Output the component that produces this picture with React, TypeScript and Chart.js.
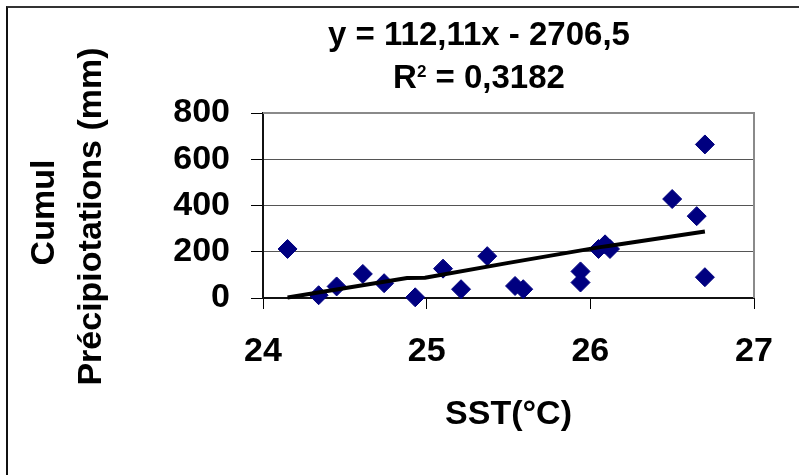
import { useEffect, useRef } from "react";
import { Chart, registerables } from "chart.js";

Chart.register(...registerables);

// ---- data ----
const sstValues = [24.15, 24.34, 24.45, 24.61, 24.74, 24.93, 25.1, 25.21, 25.37, 25.54, 25.59, 25.94, 25.94, 26.05, 26.09, 26.12, 26.5, 26.65, 26.7, 26.7];
const precipValues = [212, 12, 50, 104, 64, 3, 127, 38, 181, 52, 38, 115, 67, 212, 232, 212, 428, 354, 664, 90];

const trendX = [24.15, 24.88, 24.99, 25.5, 26.06, 26.12, 26.7];
const trendY = [2, 86, 88, 152, 220, 226, 288];

const xTickValues = [24, 25, 26, 27];
const yTickValues = [0, 200, 400, 600, 800];

const equationText = "y = 112,11x - 2706,5";
const r2Base = "R";
const r2Sup = "2";
const r2Rest = " = 0,3182";
const xTitle = "SST(°C)";
const yTitle = ["Cumul", "Précipiotations (mm)"];

const FONT = '"Liberation Sans", Arial, Helvetica, sans-serif';

const frameAndEquation = {
  id: "frameAndEquation",
  beforeDatasetsDraw(chart: any) {
    const { ctx, chartArea } = chart;
    ctx.save();
    ctx.strokeStyle = "#8a8a8a";
    ctx.lineWidth = 2;
    ctx.beginPath();
    ctx.moveTo(chartArea.left, chartArea.top);
    ctx.lineTo(chartArea.right, chartArea.top);
    ctx.lineTo(chartArea.right, chartArea.bottom);
    ctx.stroke();
    ctx.restore();
  },
  afterDraw(chart: any) {
    const { ctx, chartArea } = chart;
    const cx = chartArea.left + 216;
    ctx.save();
    ctx.fillStyle = "#000";
    ctx.textBaseline = "alphabetic";
    ctx.font = `bold 33px ${FONT}`;
    ctx.textAlign = "center";
    ctx.fillText(equationText, cx, chartArea.top - 68);
    ctx.textAlign = "left";
    const bigFont = `bold 33px ${FONT}`;
    const smallFont = `bold 17px ${FONT}`;
    ctx.font = bigFont;
    const wBase = ctx.measureText(r2Base).width;
    const wRest = ctx.measureText(r2Rest).width;
    ctx.font = smallFont;
    const wSup = ctx.measureText(r2Sup).width;
    let x = cx - (wBase + wSup + wRest) / 2;
    const y = chartArea.top - 25;
    ctx.font = bigFont;
    ctx.fillText(r2Base, x, y);
    x += wBase;
    ctx.font = smallFont;
    ctx.fillText(r2Sup, x, y - 11);
    x += wSup;
    ctx.font = bigFont;
    ctx.fillText(r2Rest, x, y);

    // vertical axis title (two lines, rotated)
    ctx.font = `bold 34px ${FONT}`;
    ctx.textAlign = "center";
    const midY = (chartArea.top + chartArea.bottom) / 2;
    const lineCenters = [midY + 7, midY + 11];
    const baselines = [54, 101];
    yTitle.forEach((line, i) => {
      ctx.save();
      ctx.translate(0, lineCenters[i]);
      ctx.rotate(-Math.PI / 2);
      ctx.fillText(line, 0, baselines[i]);
      ctx.restore();
    });
    ctx.restore();
  },
};

export default function App() {
  const canvasRef = useRef<HTMLCanvasElement | null>(null);

  useEffect(() => {
    const canvas = canvasRef.current;
    if (!canvas) return;
    const points = sstValues.map((x, i) => ({ x, y: precipValues[i] }));
    const trend = trendX.map((x, i) => ({ x, y: trendY[i] }));
    const chart = new Chart(canvas, {
      type: "scatter",
      data: {
        datasets: [
          {
            label: "Tendance",
            data: trend,
            showLine: true,
            borderColor: "#000",
            borderWidth: 4,
            pointRadius: 0,
            fill: false,
            clip: false as any,
            tension: 0,
          } as any,
          {
            label: "Cumul",
            data: points,
            pointStyle: "rectRot",
            pointRadius: 9.5,
            pointBackgroundColor: "#000080",
            pointBorderColor: "#000080",
            pointBorderWidth: 1,
            showLine: false,
            clip: false as any,
          } as any,
        ],
      },
      options: {
        responsive: false,
        devicePixelRatio: 1,
        animation: false,
        events: [],
        layout: { padding: { left: 0, top: 113, right: 45, bottom: 0 } },
        plugins: {
          legend: { display: false },
          tooltip: { enabled: false },
          title: { display: false },
        },
        scales: {
          x: {
            type: "linear",
            min: 24,
            max: 27,
            afterBuildTicks: (scale: any) => {
              scale.ticks = xTickValues.map((v) => ({ value: v }));
            },
            afterFit: (scale: any) => {
              scale.height = 475 - 298;
            },
            grid: {
              drawOnChartArea: false,
              drawTicks: true,
              tickLength: 11,
              tickColor: "#000",
              tickWidth: 1,
            },
            border: { display: true, color: "#111", width: 2 },
            ticks: {
              color: "#000",
              padding: 22,
              maxRotation: 0,
              font: { family: FONT, size: 34, weight: "bold" },
            },
            title: {
              display: true,
              text: xTitle,
              color: "#000",
              font: { family: FONT, size: 34, weight: "bold", lineHeight: 1.2 },
              padding: { top: 0, bottom: 40 },
            },
          },
          y: {
            type: "linear",
            min: 0,
            max: 800,
            afterBuildTicks: (scale: any) => {
              scale.ticks = yTickValues.map((v) => ({ value: v }));
            },
            afterFit: (scale: any) => {
              scale.width = 263;
            },
            grid: {
              drawOnChartArea: true,
              color: "#555",
              lineWidth: 1,
              drawTicks: true,
              tickLength: 12,
              tickColor: "#000",
              tickWidth: 1,
            },
            border: { display: true, color: "#111", width: 2 },
            ticks: {
              color: "#000",
              padding: 21,
              font: { family: FONT, size: 34, weight: "bold" },
            },
            title: { display: false },
          },
        },
      } as any,
      plugins: [frameAndEquation],
    });
    return () => chart.destroy();
  }, []);

  return (
    <div
      style={{
        position: "fixed",
        left: 0,
        top: 0,
        width: 799,
        height: 475,
        overflow: "hidden",
        background: "#fff",
      }}
    >
      <div
        style={{
          position: "absolute",
          left: 6,
          top: 6,
          width: 1000,
          height: 1000,
          borderTop: "2px solid #333",
          borderLeft: "2px solid #111",
        }}
      />
      <canvas
        ref={canvasRef}
        width={799}
        height={475}
        style={{ position: "absolute", left: 0, top: 0, width: 799, height: 475 }}
      />
    </div>
  );
}
